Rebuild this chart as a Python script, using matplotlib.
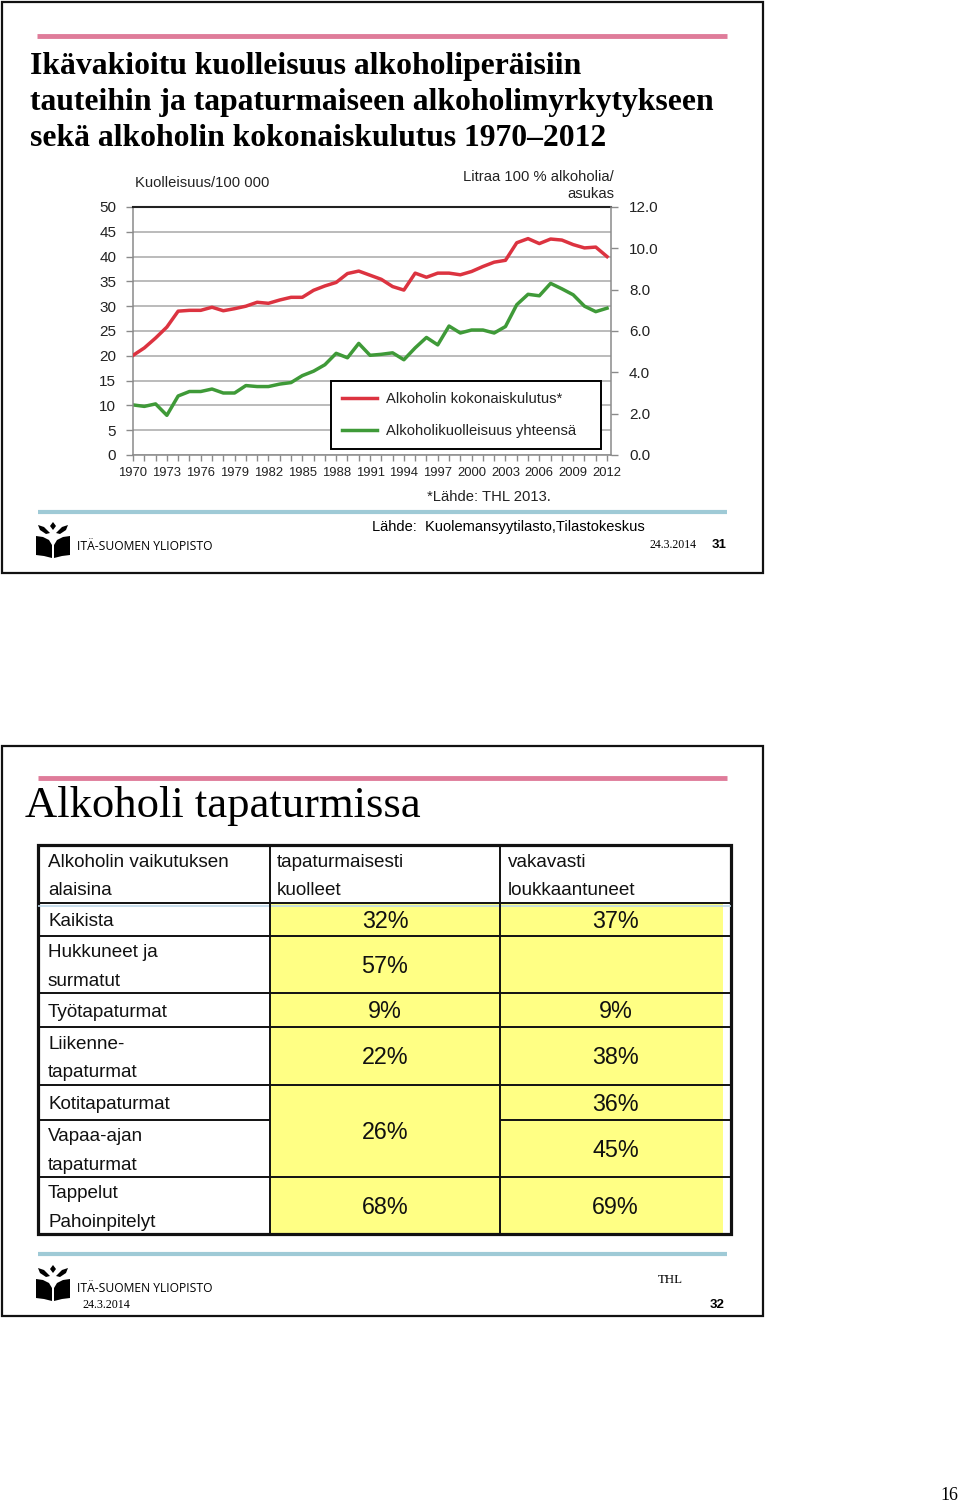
import matplotlib
matplotlib.use("Agg")
import matplotlib.pyplot as plt
from matplotlib.patches import Rectangle, Polygon
from matplotlib.lines import Line2D

# ---------------- data ----------------
years = list(range(1970, 2013))
consumption = [4.82, 5.18, 5.66, 6.19, 6.96, 7.0, 7.0, 7.15, 6.98, 7.08,
               7.2, 7.39, 7.34, 7.5, 7.63, 7.63, 7.97, 8.18, 8.35, 8.78,
               8.9, 8.7, 8.5, 8.15, 7.98, 8.8, 8.6, 8.8, 8.8, 8.72,
               8.88, 9.12, 9.33, 9.42, 10.27, 10.47, 10.23, 10.45, 10.4, 10.18,
               10.02, 10.06, 9.6]
mortality = [10.1, 9.8, 10.3, 8.0, 11.9, 12.8, 12.8, 13.3, 12.5, 12.5,
             14.0, 13.8, 13.8, 14.3, 14.6, 16.0, 16.9, 18.2, 20.5, 19.6,
             22.5, 20.1, 20.3, 20.6, 19.2, 21.6, 23.7, 22.2, 26.0, 24.6,
             25.2, 25.2, 24.6, 25.9, 30.3, 32.4, 32.1, 34.6, 33.5, 32.3,
             30.0, 28.9, 29.6]
x_tick_years = list(range(1970, 2013, 3))
left_ticks = list(range(0, 51, 5))
right_ticks = [0, 2, 4, 6, 8, 10, 12]
series_labels = ["Alkoholin kokonaiskulutus*", "Alkoholikuolleisuus yhteensä"]

title1_lines = ["Ikävakioitu kuolleisuus alkoholiperäisiin",
                "tauteihin ja tapaturmaiseen alkoholimyrkytykseen",
                "sekä alkoholin kokonaiskulutus 1970–2012"]
title2 = "Alkoholi tapaturmissa"

table_header = ["Alkoholin vaikutuksen\nalaisina", "tapaturmaisesti\nkuolleet",
                "vakavasti\nloukkaantuneet"]
row_labels = ["Kaikista", "Hukkuneet ja\nsurmatut", "Työtapaturmat",
              "Liikenne-\ntapaturmat", "Kotitapaturmat", "Vapaa-ajan\ntapaturmat",
              "Tappelut\nPahoinpitelyt"]
killed = ["32%", "57%", "9%", "22%", "26%", None, "68%"]     # None: merged with row above
injured = ["37%", "", "9%", "38%", "36%", "45%", "69%"]

# ---------------- layout (pixels) ----------------
W, H = 960, 1505
RED = "#dc3340"
GREEN = "#3f9a38"
PINK = "#df7c9a"
BLUE = "#9fcad6"
YELLOW = "#ffff84"
SANS = ["Liberation Sans", "DejaVu Sans"]
SERIF = ["Liberation Serif", "DejaVu Serif"]

fig = plt.figure(figsize=(W / 100, H / 100), dpi=100)
bg = fig.add_axes([0, 0, 1, 1])
bg.set_xlim(0, W)
bg.set_ylim(H, 0)
bg.axis("off")
renderer = fig.canvas.get_renderer()


def put(x, y, s, size, fit=None, **kw):
    t = bg.text(x, y, s, fontsize=size, **kw)
    if fit:
        w = t.get_window_extent(renderer=renderer).width
        t.set_fontsize(size * fit / w)
    return t


def hline(y, x0, x1, color, lw):
    bg.add_line(Line2D([x0, x1], [y, y], color=color, lw=lw, solid_capstyle="butt"))


def vline(x, y0, y1, color, lw):
    bg.add_line(Line2D([x, x], [y0, y1], color=color, lw=lw, solid_capstyle="butt"))


def logo(x0, y0):
    shapes = [
        [(17, 0), (20, 4), (17, 8), (14, 4)],
        [(2, 3), (8, 5), (14, 11), (10, 12), (4, 8)],
        [(32, 3), (26, 5), (20, 11), (24, 12), (30, 8)],
        [(0, 14), (7, 15), (13, 18), (16, 23), (16, 36), (8, 34), (0, 33)],
        [(34, 14), (27, 15), (21, 18), (18, 23), (18, 36), (26, 34), (34, 33)],
    ]
    for s in shapes:
        bg.add_patch(Polygon([(x0 + a, y0 + b) for a, b in s], closed=True,
                             color="black", lw=0))


def frame(x0, y0, x1, y1):
    bg.add_patch(Rectangle((x0, y0), x1 - x0, y1 - y0, fill=False,
                           edgecolor="#111111", lw=1.6))


# ================= Slide 1 =================
frame(2, 2, 763, 573)
hline(35.5, 37, 727, PINK, 3.5)
t = put(30, 74, title1_lines[1], 24, fit=None, family=SERIF, weight="bold", va="baseline")
w = t.get_window_extent(renderer=renderer).width
fs = 24 * 685 / w
t.set_fontsize(fs)
for i, line in enumerate(title1_lines):
    if i == 1:
        t.set_position((30, 110))
        continue
    put(30, 74 + 36 * i, line, fs, family=SERIF, weight="bold", va="baseline")

# chart
def fax(l, tp, r, b):
    return [l / W, 1 - b / H, (r - l) / W, (b - tp) / H]

ax = fig.add_axes(fax(133, 207, 611, 455))
ax2 = ax.twinx()
ax.set_zorder(2)
ax2.set_zorder(3)
ax.patch.set_visible(False)
ax2.patch.set_visible(False)

l_green, = ax.plot(years, mortality, color=GREEN, lw=2.5, solid_joinstyle="round")
l_red, = ax2.plot(years, consumption, color=RED, lw=2.5, solid_joinstyle="round")
ax.set_xlim(1970, 2012.35)
ax.set_ylim(0, 50)
ax2.set_ylim(0, 12)
ax.set_yticks(left_ticks)
ax.set_yticklabels([str(v) for v in left_ticks])
ax2.set_yticks(right_ticks)
ax2.set_yticklabels([f"{v:.1f}" for v in right_ticks])
ax.set_xticks(x_tick_years)
ax.set_xticklabels([str(y) for y in x_tick_years])
ax.set_xticks(years, minor=True)
ax.grid(axis="y", color="#a8a8a8", lw=1.1)
ax.set_axisbelow(True)

ax.spines["right"].set_visible(False)
ax.spines["top"].set_color("#222222")
ax.spines["top"].set_linewidth(1.5)
for s in ["left", "bottom"]:
    ax.spines[s].set_color("#8a8a8a")
    ax.spines[s].set_linewidth(1.1)
for s in ["left", "top", "bottom"]:
    ax2.spines[s].set_visible(False)
ax2.spines["right"].set_color("#8a8a8a")
ax2.spines["right"].set_linewidth(1.1)

ax.tick_params(axis="y", direction="out", length=5, color="#8a8a8a", width=1,
               labelsize=11, pad=7, labelcolor="#222222")
ax2.tick_params(axis="y", direction="out", length=5, color="#8a8a8a", width=1,
                labelsize=11, pad=8, labelcolor="#222222")
ax.tick_params(axis="x", which="both", direction="out", length=4, color="#8a8a8a",
               width=1, labelsize=9.4, pad=5, labelcolor="#222222")
for a in (ax, ax2):
    for lab in a.get_xticklabels() + a.get_yticklabels():
        lab.set_family(SANS)

leg = ax2.legend([l_red, l_green], series_labels, loc="upper left",
                 bbox_to_anchor=(331 / W, 1 - 447 / H, 270 / W, 66 / H),
                 bbox_transform=fig.transFigure, mode="expand",
                 fancybox=False, edgecolor="black", framealpha=1,
                 prop={"family": SANS, "size": 10.6}, handlelength=2.4,
                 borderpad=0.75, labelspacing=1.25, handletextpad=0.6,
                 borderaxespad=0)
leg.get_frame().set_linewidth(1.4)
for txt in leg.get_texts():
    txt.set_color("#222222")

put(135, 183, "Kuolleisuus/100 000", 10.6, family=SANS, va="center", color="#222222")
put(614, 177, "Litraa 100 % alkoholia/", 10.6, family=SANS, va="center", ha="right",
    color="#222222")
put(614, 194, "asukas", 10.6, family=SANS, va="center", ha="right", color="#222222")
put(427, 497, "*Lähde: THL 2013.", 10.6, family=SANS, va="center", color="#222222")

hline(511.5, 38, 727, BLUE, 3)
put(372, 527, "Lähde:  Kuolemansyytilasto,Tilastokeskus", 10.5, fit=273,
    family=SANS, va="center")
put(650, 545.5, "24.3.2014", 8, fit=47, family=SERIF, va="center")
put(712, 545.5, "31", 9.5, family=SANS, weight="bold", va="center")
logo(36, 522)
put(77, 546.5, "ITÄ-SUOMEN YLIOPISTO", 8, fit=136, family=["Open Sans", "DejaVu Sans"],
    va="center")

# ================= Slide 2 =================
frame(2, 746, 763, 1316)
hline(778, 38, 727, PINK, 3.5)
put(25, 817, title2, 30, fit=396, family=SERIF, va="baseline")

col_edges = [38, 270, 500, 731]
tab_top = 845
row_edges = [903, 936, 993, 1027, 1085, 1120, 1177, 1234]
yellow_right = 723
text_pad = [10, 7, 8]
label_size = 13.6
value_size = 16.8
line_gap = 28.5

# yellow cells
bg.add_patch(Rectangle((col_edges[1], row_edges[0]), col_edges[2] - col_edges[1],
                       row_edges[-1] - row_edges[0], color=YELLOW, lw=0))
bg.add_patch(Rectangle((col_edges[2], row_edges[0]), yellow_right - col_edges[2],
                       row_edges[-1] - row_edges[0], color=YELLOW, lw=0))


def lines_at(x, cy, s, size, ha="left"):
    parts = s.split("\n")
    n = len(parts)
    for k, p in enumerate(parts):
        yc = cy + (k - (n - 1) / 2) * line_gap
        put(x, yc + 0.36 * size / 0.72, p, size, family=SANS, ha=ha, va="baseline",
            color="#111111")


# header
hcy = (tab_top + row_edges[0]) / 2
for j, h in enumerate(table_header):
    lines_at(col_edges[j] + text_pad[j], hcy, h, label_size)

# rows
i = 0
while i < len(row_labels):
    y0, y1 = row_edges[i], row_edges[i + 1]
    cy = (y0 + y1) / 2
    lines_at(col_edges[0] + text_pad[0], cy, row_labels[i], label_size)
    if killed[i] is not None:
        span_end = i + 1
        while span_end < len(killed) and killed[span_end] is None:
            span_end += 1
        kcy = (row_edges[i] + row_edges[span_end]) / 2
        lines_at((col_edges[1] + col_edges[2]) / 2, kcy, killed[i], value_size, ha="center")
    if injured[i]:
        lines_at((col_edges[2] + col_edges[3]) / 2, cy, injured[i], value_size, ha="center")
    i += 1

# grid lines
hline(row_edges[0], col_edges[0], col_edges[3], "#111111", 1.4)
hline(row_edges[0] + 2.5, col_edges[0], col_edges[3], "#bcd8ea", 1.2)
for k in range(1, len(row_edges) - 1):
    y = row_edges[k]
    if killed[k] is None:
        hline(y, col_edges[0], col_edges[1], "#111111", 1.4)
        hline(y, col_edges[2], col_edges[3], "#111111", 1.4)
    else:
        hline(y, col_edges[0], col_edges[3], "#111111", 1.4)
for x in col_edges[1:3]:
    vline(x, tab_top, row_edges[-1], "#111111", 1.4)
bg.add_patch(Rectangle((col_edges[0], tab_top), col_edges[3] - col_edges[0],
                       row_edges[-1] - tab_top, fill=False, edgecolor="#111111", lw=2.3))

hline(1254, 38, 727, BLUE, 3)
logo(36, 1265)
put(77, 1289, "ITÄ-SUOMEN YLIOPISTO", 8, fit=136, family=["Open Sans", "DejaVu Sans"],
    va="center")
put(82, 1304.5, "24.3.2014", 8, fit=48, family=SERIF, va="center")
put(658, 1280, "THL", 8, fit=25, family=SERIF, va="center")
put(710, 1305.5, "32", 9.5, family=SANS, weight="bold", va="center")

put(940, 1495.5, "16", 12, fit=18, family=SERIF, va="center")

fig.savefig("out.png", dpi=100)
